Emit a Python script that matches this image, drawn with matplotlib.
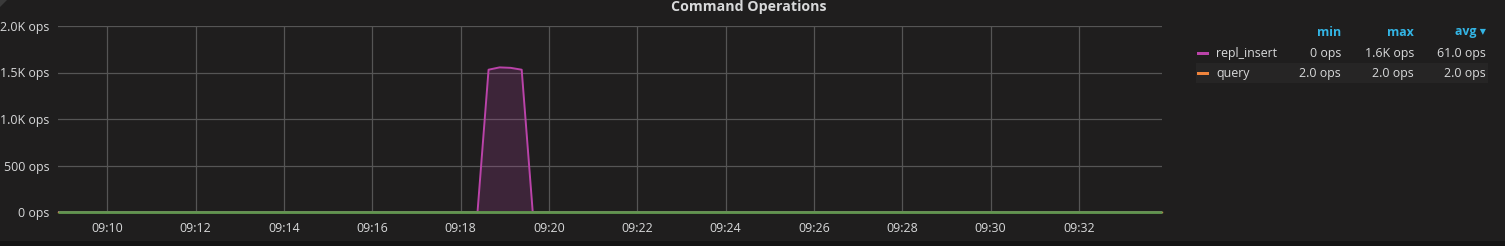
import matplotlib
matplotlib.use("Agg")
import matplotlib.pyplot as plt
import matplotlib.dates as mdates
from matplotlib.patches import Rectangle, Polygon
import pandas as pd

# ---- data ----
day = "2018-01-01 "
repl_times = ["09:08:53", "09:18:23", "09:18:38", "09:18:53", "09:19:08", "09:19:23", "09:19:38", "09:33:53"]
repl_values = [0, 0, 1530, 1555, 1550, 1530, 0, 0]
query_times = ["09:08:53", "09:33:53"]
query_values = [2, 2]
base_times = ["09:08:53", "09:33:53"]
base_values = [0, 0]

y_ticks = [0, 500, 1000, 1500, 2000]
y_tick_labels = ["0 ops", "500 ops", "1.0K ops", "1.5K ops", "2.0K ops"]

legend_names = ["repl_insert", "query"]
legend_colors = ["#ba43a9", "#ef843c"]
legend_min = ["0 ops", "2.0 ops"]
legend_max = ["1.6K ops", "2.0 ops"]
legend_avg = ["61.0 ops", "2.0 ops"]
legend_headers = ["min", "max", "avg \u25be"]

title = "Command Operations"

# ---- figure ----
W, H = 1505, 246
BG = "#1f1e1e"
TXT = "#d8d9da"
FS = 8.9
plt.rcParams["font.family"] = ["Open Sans", "DejaVu Sans"]

fig = plt.figure(figsize=(W / 100, H / 100), dpi=100, facecolor=BG)

def fx(px):
    return px / W

def fy(py):
    return 1 - py / H

# bottom dark strip
fig.patches.append(Rectangle((0, 0), 1, fy(241), transform=fig.transFigure,
                             facecolor="#141414", edgecolor="none", zorder=0))

ax = fig.add_axes([fx(58), fy(212), fx(1162) - fx(58), fy(26) - fy(212)])
ax.set_facecolor(BG)

def to_dt(ts):
    return pd.to_datetime([day + t for t in ts])

rt = to_dt(repl_times)
qt = to_dt(query_times)
bt = to_dt(base_times)

ax.fill_between(rt, repl_values, 0, color="#ba43a9", alpha=0.2, linewidth=0, zorder=2)
ax.plot(rt, repl_values, color="#ba43a9", lw=1.4, zorder=3)
ax.plot(qt, query_values, color="#ef843c", lw=1.0, zorder=3, clip_on=False)
ax.plot(bt, base_values, color="#5f954f", lw=2.0, zorder=4, solid_capstyle="butt",
        clip_on=False)

ax.set_xlim(bt[0], bt[-1])
ax.set_ylim(0, 2000)
ax.set_yticks(y_ticks)
ax.set_yticklabels(y_tick_labels)
ax.xaxis.set_major_locator(mdates.MinuteLocator(byminute=range(10, 34, 2)))
ax.xaxis.set_major_formatter(mdates.DateFormatter("%H:%M"))

ax.grid(True, color="#555555", lw=0.9, zorder=1)
for s in ax.spines.values():
    s.set_visible(False)
ax.tick_params(axis="both", length=0, colors=TXT, labelsize=FS)
ax.tick_params(axis="y", pad=6)
ax.tick_params(axis="x", pad=7)
ax.set_axisbelow(True)

# title
fig.text(fx(749), fy(7.5), title, color=TXT, fontsize=10.2, fontweight="bold",
         ha="center", va="center")

# panel corner mark
fig.patches.append(Polygon([[0, 1], [fx(7), 1], [0, fy(7)]], closed=True,
                           transform=fig.transFigure, facecolor="#3a3a3a",
                           edgecolor="none"))

# legend
col_right = [1341, 1414, 1476]
hdr_y = 32
for x, h in zip(col_right, legend_headers):
    xx = x + 10 if h.startswith("avg") else x
    fig.text(fx(xx), fy(hdr_y), h, color="#33b5e5", fontsize=FS,
             fontweight="bold", ha="right", va="center")

row_y = [53, 73]
fig.patches.append(Rectangle((fx(1196), fy(83)), fx(1488) - fx(1196), fy(63) - fy(83),
                             transform=fig.transFigure, facecolor="#262525",
                             edgecolor="none", zorder=0))
for i, (name, col) in enumerate(zip(legend_names, legend_colors)):
    y = row_y[i]
    fig.patches.append(Rectangle((fx(1196.5), fy(y + 1.5)), fx(12.5), 3 / H,
                                 transform=fig.transFigure, facecolor=col,
                                 edgecolor="none", zorder=2))
    fig.text(fx(1216), fy(y), name, color=TXT, fontsize=FS, ha="left", va="center")
    fig.text(fx(1341), fy(y), legend_min[i], color=TXT, fontsize=FS, ha="right", va="center")
    fig.text(fx(1414), fy(y), legend_max[i], color=TXT, fontsize=FS, ha="right", va="center")
    fig.text(fx(1486), fy(y), legend_avg[i], color=TXT, fontsize=FS, ha="right", va="center")

fig.savefig("out.png", dpi=100, facecolor=BG)
